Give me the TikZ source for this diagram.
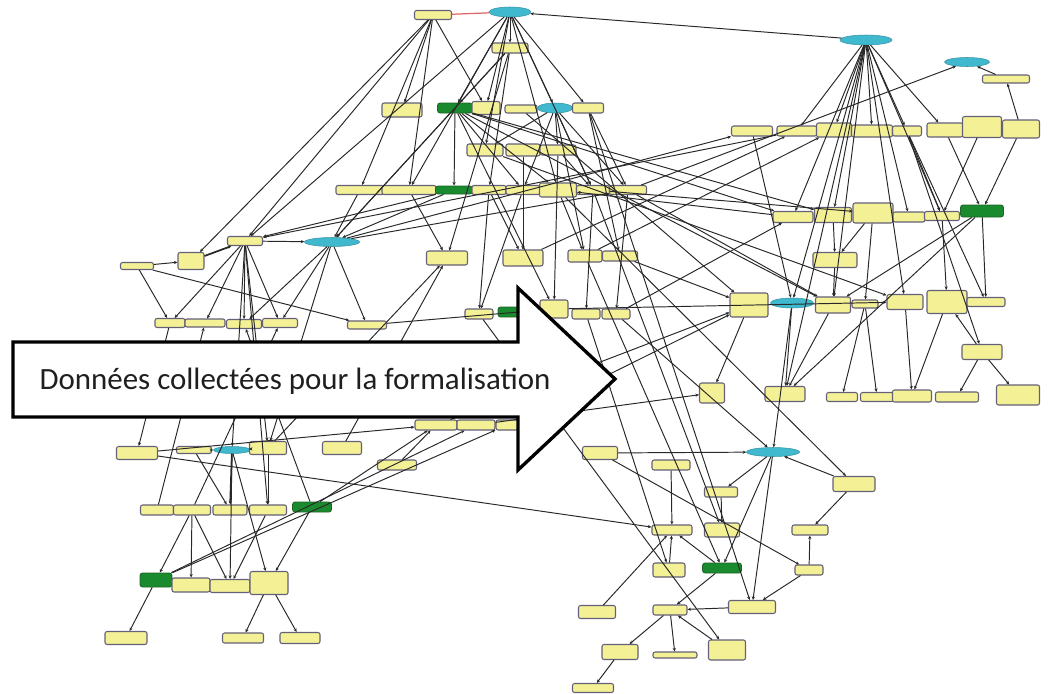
\documentclass[tikz,border=0pt]{standalone}
\usepackage{fontspec}
\setmainfont{Carlito}
\usetikzlibrary{shapes.geometric,arrows.meta}

\definecolor{nodeyellow}{RGB}{244,240,150}
\definecolor{nodeedge}{RGB}{100,96,120}
\definecolor{nodegreen}{RGB}{26,138,46}
\definecolor{greenedge}{RGB}{30,100,40}
\definecolor{nodecyan}{RGB}{64,184,206}
\definecolor{edgegray}{RGB}{40,40,40}
\definecolor{linkred}{RGB}{225,100,100}

\tikzset{
  yb/.style 2 args={rectangle, rounded corners=1.2pt, fill=nodeyellow, draw=nodeedge,
    line width=0.6pt, inner sep=0pt, minimum width=#1*0.02cm, minimum height=#2*0.02cm},
  gb/.style 2 args={rectangle, rounded corners=1.5pt, fill=nodegreen, draw=greenedge,
    line width=0.5pt, inner sep=0pt, minimum width=#1*0.02cm, minimum height=#2*0.02cm},
  cb/.style 2 args={ellipse, fill=nodecyan, draw=nodecyan!80!black,
    line width=0.3pt, inner sep=0pt, minimum width=#1*0.02cm, minimum height=#2*0.02cm},
  ed/.style={draw=edgegray, line width=0.55pt},
  ea/.style={ed, -{Stealth[length=2pt,width=1.8pt]}},
  eb/.style={ea, line width=1pt},
  bigarrow/.style={draw=black, fill=white, line width=1.9pt, line join=miter},
  caption/.style={font=\fontsize{17.6}{20}\selectfont, text=black!88}
}

\begin{document}
\begin{tikzpicture}[x=0.02cm,y=-0.02cm]
\useasboundingbox (0,0) rectangle (1050,693);

% ---- upper middle cluster
\node[yb={37}{9}]  (a1) at (433,15) {};
\node[cb={42}{10}] (c1) at (510,12) {};
\node[yb={36}{10}] (a2) at (510,48) {};
\node[yb={40}{14}] (a3) at (402,110) {};
\node[gb={35}{10}] (g1) at (455,108) {};
\node[yb={28}{13}] (a4) at (486,108) {};
\node[yb={32}{8}]  (a5) at (521,109) {};
\node[cb={35}{10}] (c2) at (555,108) {};
\node[yb={31}{10}] (a6) at (588,108) {};
\node[yb={36}{12}] (a7) at (485,150) {};
\node[yb={34}{12}] (a8) at (523,150) {};
\node[yb={36}{10}] (a9) at (558,150) {};
\node[yb={48}{9}]  (b1) at (360,190) {};
\node[yb={54}{9}]  (b2) at (409,190) {};
\node[gb={37}{8}]  (g2) at (454,190) {};
\node[yb={34}{9}]  (b3) at (489,190) {};
\node[yb={34}{9}]  (b4) at (523,190) {};
\node[yb={37}{14}] (b5) at (558,190) {};
\node[yb={33}{9}]  (b6) at (593,190) {};
\node[yb={37}{9}]  (b7) at (628,190) {};
\node[yb={41}{14}] (d1) at (447,258) {};
\node[yb={40}{16}] (d2) at (523,258) {};
\node[yb={34}{12}] (d3) at (585,256) {};
\node[yb={35}{10}] (d4) at (620,256) {};
\node[yb={28}{10}] (e1) at (479,314) {};
\node[gb={22}{10}] (g3) at (509,312) {};
\node[yb={28}{18}] (e2) at (554,309) {};
\node[yb={28}{10}] (e3) at (586,314) {};
\node[yb={28}{10}] (e4) at (616,314) {};

% ---- left cluster
\node[yb={35}{9}]  (l1) at (245,241) {};
\node[cb={55}{9}]  (c3) at (332,242) {};
\node[yb={26}{17}] (l2) at (191,261) {};
\node[yb={33}{7}]  (l3) at (137,266) {};
\node[yb={30}{9}]  (m1) at (170,323) {};
\node[yb={40}{8}]  (m2) at (205,323) {};
\node[yb={35}{9}]  (m3) at (244,324) {};
\node[yb={35}{9}]  (m4) at (280,323) {};
\node[yb={39}{8}]  (m5) at (367,325) {};

% ---- lower left cluster
\node[yb={42}{10}] (n1) at (436,425) {};
\node[yb={38}{10}] (n2) at (476,425) {};
\node[yb={22}{10}] (n3) at (507,425) {};
\node[yb={39}{10}] (n4) at (397,465) {};
\node[yb={41}{13}] (p1) at (137,453) {};
\node[yb={35}{7}]  (p2) at (194,450) {};
\node[cb={37}{7}]  (c6) at (232,450) {};
\node[yb={37}{13}] (p3) at (268,448) {};
\node[yb={39}{13}] (p4) at (342,448) {};
\node[yb={33}{10}] (q1) at (157,510) {};
\node[yb={37}{10}] (q2) at (192,510) {};
\node[yb={34}{10}] (q3) at (230,510) {};
\node[yb={37}{10}] (q4) at (268,510) {};
\node[gb={39}{10}] (g4) at (312,507) {};
\node[gb={32}{14}] (g5) at (156,580) {};
\node[yb={38}{14}] (r1) at (191,585) {};
\node[yb={40}{13}] (r2) at (230,586) {};
\node[yb={38}{23}] (r3) at (269,583) {};
\node[yb={42}{13}] (s1) at (126,638) {};
\node[yb={41}{10}] (s2) at (243,638) {};
\node[yb={40}{11}] (s3) at (300,638) {};

% ---- right cluster
\node[cb={52}{10}] (c4) at (866,40) {};
\node[cb={45}{9}]  (c5) at (967,62) {};
\node[yb={47}{8}]  (f1) at (1006,79) {};
\node[yb={41}{10}] (h1) at (752,131) {};
\node[yb={40}{10}] (h2) at (797,131) {};
\node[yb={35}{14}] (h3) at (834,130) {};
\node[yb={41}{12}] (h4) at (872,131) {};
\node[yb={29}{10}] (h5) at (907,131) {};
\node[yb={36}{14}] (h6) at (945,130) {};
\node[yb={39}{21}] (h7) at (982,127) {};
\node[yb={37}{18}] (h8) at (1021,129) {};
\node[yb={40}{11}] (i1) at (793,217) {};
\node[yb={37}{15}] (i2) at (833,215) {};
\node[yb={40}{20}] (i3) at (873,213) {};
\node[yb={32}{10}] (i4) at (909,217) {};
\node[yb={35}{9}]  (i5) at (942,216) {};
\node[gb={43}{12}] (g6) at (982,211) {};
\node[yb={44}{15}] (j1) at (835,260) {};
\node[yb={38}{24}] (k1) at (749,305) {};
\node[cb={43}{10}] (c7) at (792,303) {};
\node[yb={35}{16}] (k2) at (833,305) {};
\node[yb={26}{8}]  (k3) at (865,304) {};
\node[yb={36}{15}] (k4) at (905,302) {};
\node[yb={40}{23}] (k5) at (947,302) {};
\node[yb={38}{9}]  (k6) at (986,302) {};
\node[yb={40}{15}] (o1) at (982,352) {};
\node[yb={25}{20}] (t1) at (712,393) {};
\node[yb={40}{15}] (t2) at (785,394) {};
\node[yb={31}{9}]  (t3) at (842,397) {};
\node[yb={33}{9}]  (t4) at (877,397) {};
\node[yb={39}{12}] (t5) at (912,396) {};
\node[yb={43}{10}] (t6) at (957,397) {};
\node[yb={43}{20}] (t7) at (1018,395) {};

% ---- lower right cluster
\node[yb={35}{13}] (u1) at (600,453) {};
\node[yb={38}{10}] (u2) at (671,465) {};
\node[cb={53}{9}]  (c8) at (773,452) {};
\node[yb={33}{10}] (u3) at (721,492) {};
\node[yb={42}{15}] (u4) at (854,484) {};
\node[yb={40}{10}] (v1) at (672,530) {};
\node[yb={35}{14}] (v2) at (722,530) {};
\node[yb={36}{10}] (v3) at (810,530) {};
\node[yb={32}{14}] (w1) at (669,570) {};
\node[gb={39}{10}] (g7) at (722,568) {};
\node[yb={28}{10}] (w2) at (809,570) {};
\node[yb={37}{13}] (x1) at (597,612) {};
\node[yb={34}{10}] (x2) at (670,610) {};
\node[yb={47}{13}] (x3) at (752,607) {};
\node[yb={36}{15}] (y1) at (620,652) {};
\node[yb={44}{6}]  (y2) at (675,655) {};
\node[yb={37}{20}] (y3) at (727,650) {};
\node[yb={41}{9}]  (z1) at (593,688) {};

% ---- connectors
\draw[ed, draw=linkred, line width=0.7pt] (a1) -- (c1);
\foreach \s/\t in {
  c4/c1, c1/a2, c1/g1, c1/a4, c1/c2, c1/a6, c1/b5, c1/b6, c1/l1, c1/b2, c1/a7,
  a2/b3, a2/g1, a2/d1, a2/c3,
  a1/b1, a1/b2, a1/a4, a1/l1, a1/l2, a1/a3,
  g1/b5, g1/e2, g1/i1, g1/k2, g1/c3, g1/b4, g1/g2, g1/i2,
  c2/a7, c2/b4, c2/d3, c2/b6, c2/b7, c2/a9,
  a6/b7, a6/d4, a8/d2, a9/e2, a9/b6, a5/k1, a7/k4,
  b1/c3, b3/d2, b4/d2, b5/d3, b6/e3, b7/e4, g2/l1, g2/c3, b4/e1, b2/d1, b3/e1,
  b7/c5, d2/h2, d3/h3, b6/i3, b7/k2, d4/k1, c3/b7, c3/h1,
  b6/v2, d3/g7, b5/u4, a6/x3, e4/c8, e3/w1, e1/y3,
  n2/t1, n3/k1, e4/i1, e2/k4, m5/e2, p3/d1, n1/k1,
  c4/h2, c4/h3, c4/h4, c4/h5, c4/h6, c4/i1, c4/i2, c4/c7, c4/k2, c4/k4,
  c4/t2, c4/i4, c4/i5,
  f1/c5, h8/f1, h6/g6, h7/i5, h8/g6, g6/k6, g6/k2, g6/t2,
  h5/i5, h5/k6, h5/o1, i2/j1, j1/k2, i3/j1, i3/k3,
  k3/t3, k3/t4, k5/t5, o1/t6, o1/t7, o1/k5, i5/k5, k4/t5,
  k1/t1, c7/t2, c7/c8, k2/t2, h1/c7, i1/b5, h2/l1,
  c8/u3, u4/c8, u4/v3, c8/x3, c8/g7, w2/v3, w2/x3, u1/c8, u1/w2,
  u2/v1, w1/v1, g7/v1, g7/x2, x3/x2, x2/y1, x2/y2, y3/x2, y1/z1,
  x1/v1, u3/v2, p1/v1,
  l3/l2, l1/c3, l3/m1, l3/m5, c3/m5, c3/m3, c3/m4, c3/p3,
  l1/m1, l1/m2, l1/m3, l1/m4, l1/c6, l1/p3, l1/q4,
  m1/p1, q1/m2, p2/c6, c6/p3, p2/q3, q2/m4, g4/m3, g4/r3,
  q2/g5, q2/r1, q2/r2, g5/s1, r3/s2, r3/s3, g5/n2, g5/n3,
  c6/r3, q4/r2, c6/r2, p1/n1, g4/n1, n4/n1, p4/d1, p3/q4}
  \draw[ea] (\s) -- (\t);
\draw[eb] (l2) -- (l1);
\draw[eb] (c6) -- (q3);

% ---- the big arrow with its caption
\draw[bigarrow] (13,342) -- (518,342) -- (518,288) -- (615,379)
  -- (518,470) -- (518,417) -- (13,417) -- cycle;
\node[caption] (cap) at (295,381) {Données collectées pour la formalisation};
\end{tikzpicture}
\end{document}
